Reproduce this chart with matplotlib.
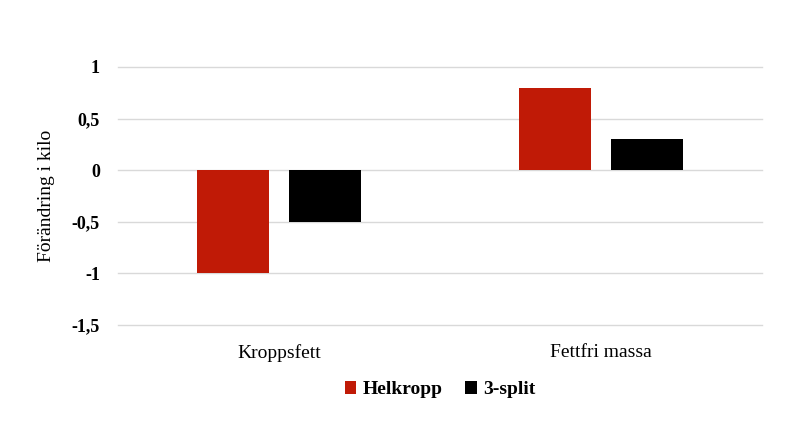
import matplotlib.pyplot as plt
import numpy as np

categories = ['Kroppsfett', 'Fettfri massa']
helkropp = [-1.0, 0.8]
split3 = [-0.5, 0.3]
yticks = [-1.5, -1, -0.5, 0, 0.5, 1]
ylabels = ['-1,5', '-1', '-0,5', '0', '0,5', '1']

plt.rcParams['font.family'] = ['Liberation Serif', 'DejaVu Serif']

fig = plt.figure(figsize=(7.97, 4.21), dpi=100)
ax = fig.add_axes([0.148, 0.228, 0.808, 0.613])

x = np.arange(len(categories))
w = 0.224
ax.bar(x - 0.143, helkropp, w, color='#C01A06', label='Helkropp', zorder=3)
ax.bar(x + 0.143, split3, w, color='#000000', label='3-split', zorder=3)

ax.set_xlim(-0.5, 1.5)
ax.set_ylim(-1.5, 1)
ax.set_yticks(yticks)
ax.set_yticklabels(ylabels, fontsize=13, fontweight='bold')
ax.set_xticks(x)
ax.set_xticklabels(categories, fontsize=14)
ax.tick_params(length=0)
ax.tick_params(axis='y', pad=13)
ax.tick_params(axis='x', pad=14)
for yv in yticks:
    ax.axhline(yv, color='#D9D9D9', linewidth=1, zorder=0, clip_on=False)
for s in ax.spines.values():
    s.set_visible(False)

ax.set_ylabel('Förändring i kilo', fontsize=14, labelpad=12)

ax.legend(loc='upper center', bbox_to_anchor=(0.5, -0.15), ncol=2, frameon=False,
          handlelength=0.6, handleheight=0.6, handletextpad=0.3, columnspacing=1.2,
          prop={'size': 14, 'weight': 'bold'})

fig.savefig('out.png', dpi=100)
